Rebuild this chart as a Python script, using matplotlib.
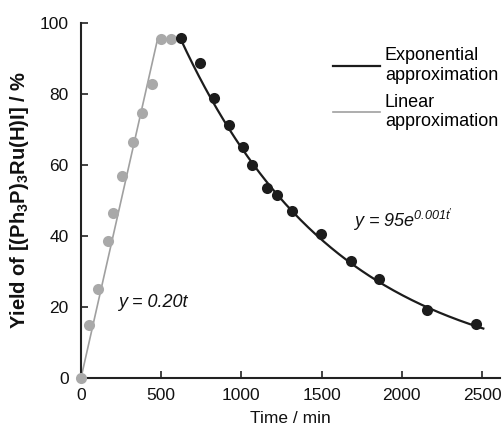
import numpy as np
import matplotlib
matplotlib.use("Agg")
import matplotlib.pyplot as plt

plt.rcParams['font.family'] = ['Liberation Sans', 'DejaVu Sans']
plt.rcParams['mathtext.default'] = 'regular'

# Data
lin_t = [0, 50, 108, 170, 202, 258, 322, 380, 445, 501, 559]
lin_y = [0, 15.0, 25.0, 38.7, 46.4, 56.9, 66.6, 74.6, 82.8, 95.4, 95.4]
exp_t = [621, 742, 829, 921, 1012, 1068, 1162, 1220, 1318, 1494, 1681, 1858, 2159, 2460]
exp_y = [95.9, 88.8, 79.0, 71.4, 65.2, 60.0, 53.4, 51.5, 47.1, 40.5, 33.0, 27.8, 19.2, 15.1]

# Linear approximation y = 0.20t up to plateau
lin_fit_t = [0, 477, 559]
lin_fit_y = [0, 95.4, 95.4]
# Exponential approximation y = 95 e^(-0.001 t'), t' = t - t0
exp_A, exp_k, exp_t0 = 95.5, 0.00102, 621
exp_fit_t = np.linspace(621, 2508, 200)
exp_fit_y = exp_A * np.exp(-exp_k * (exp_fit_t - exp_t0))

gray = '#a9a9a9'
dark = '#1c1c1c'

fig = plt.figure(figsize=(5.03, 4.30), dpi=100)
ax = fig.add_axes([81/503, 1-378/430, (500-81)/503, (378-23)/430])

ax.plot(lin_fit_t, lin_fit_y, color='#a0a0a0', lw=1.2, label='Linear\napproximation', zorder=2)
ax.plot(exp_fit_t, exp_fit_y, color=dark, lw=1.6, label='Exponential\napproximation', zorder=2)
ax.plot(lin_t, lin_y, 'o', color=gray, ms=8, mec='none', clip_on=False, zorder=3)
ax.plot(exp_t, exp_y, 'o', color=dark, ms=8, mec='none', clip_on=False, zorder=3)

ax.set_xlim(0, 2612)
ax.set_ylim(0, 100)
ax.set_xticks([0, 500, 1000, 1500, 2000, 2500])
ax.set_yticks([0, 20, 40, 60, 80, 100])

for s in ['top', 'right']:
    ax.spines[s].set_visible(False)
for s in ['left', 'bottom']:
    ax.spines[s].set_linewidth(1.5)
    ax.spines[s].set_color('#222222')
ax.tick_params(axis='both', direction='in', length=5, width=1.2, color='#222222',
               labelsize=12.5, labelcolor='#111111')
ax.tick_params(axis='y', pad=9)
ax.tick_params(axis='x', pad=7)

ax.set_xlabel('Time / min', fontsize=12.5, color='#111111', labelpad=6)
ax.set_ylabel(r'Yield of [(Ph$_3$P)$_3$Ru(H)I] / %', fontsize=14.5,
              fontweight='bold', color='#111111', labelpad=6)

ax.text(231, 21.4, 'y = 0.20t', fontsize=13, style='italic', va='center', ha='left', color='#111111')
ax.text(1696, 42.5, "y = 95e$^{0.001t'}$", fontsize=13, style='italic', va='baseline', ha='left',
        color='#111111')

handles, labels = ax.get_legend_handles_labels()
leg = ax.legend(handles[::-1], labels[::-1], loc='upper left', bbox_to_anchor=(0.585, 0.952),
                frameon=False, fontsize=13, handlelength=2.6, handletextpad=0.25,
                labelspacing=0.55, borderaxespad=0)

fig.savefig('out.png', dpi=100)
